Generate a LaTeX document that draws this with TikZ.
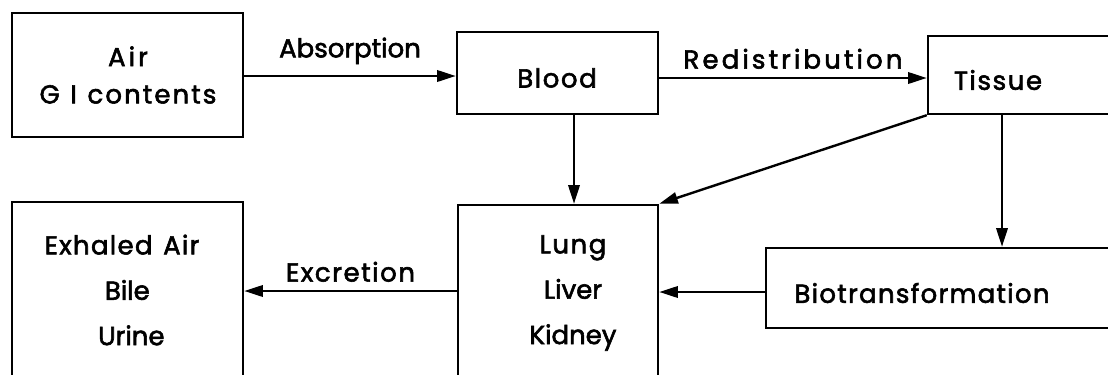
\documentclass[tikz,border=0pt]{standalone}
\usepackage{fontspec}
\setmainfont{Poppins}[FakeBold=2.2]
\usetikzlibrary{arrows.meta,calc}
\begin{document}
\begin{tikzpicture}[x=0.75pt,y=-0.75pt,
  box/.style={draw,line width=1.8pt,inner sep=0pt},
  txt/.style={font=\fontsize{19.5}{22}\selectfont,inner sep=0pt,align=center},
  conn/.style={line width=1.8pt,-{Triangle[length=14pt,width=8.5pt]}}]
\useasboundingbox (0,0) rectangle (1108,375);
\clip (0,0) rectangle (1108,375);
% boxes
\node[box,minimum width=231*0.75pt,minimum height=124*0.75pt] (air) at (127.5,75) {};
\node[box,minimum width=201*0.75pt,minimum height=82*0.75pt] (blood) at (557.5,73) {};
\node[box,minimum width=192*0.75pt,minimum height=78*0.75pt] (tissue) at (1024,75) {};
\node[box,minimum width=354*0.75pt,minimum height=80*0.75pt] (bio) at (943,288) {};
\node[box,minimum width=200*0.75pt,minimum height=190*0.75pt] (lung) at (558,300) {};
\node[box,minimum width=231*0.75pt,minimum height=190*0.75pt] (exh) at (127.5,297) {};
% texts
\node[txt] (airt) at (128,75) {\addfontfeature{LetterSpace=12}Air\\[6pt]\addfontfeature{LetterSpace=8}G\hspace{8pt}I\hspace{8pt}contents};
\node[txt] (bloodt) at (557,78) {\addfontfeature{LetterSpace=6}Blood};
\node[txt] (tissuet) at (998,80) {\addfontfeature{LetterSpace=6}Tissue};
\node[txt] (biot) at (922,293) {\addfontfeature{LetterSpace=5}Biotransformation};
\node[txt] (lungt) at (573,293) {\addfontfeature{LetterSpace=6}Lung\\[12pt]Liver\\[12pt]Kidney};
\node[txt] (exht) at (122,290) {\addfontfeature{LetterSpace=5}Exhaled\hspace{8pt}Air\\[12pt]\hspace{8pt}Bile\\[12pt]\hspace{14pt}Urine};
% connectors
\draw[conn] (air.east |- 0,76) coordinate (a1) -- (a1 -| blood.west)
  node[midway,above=8pt,txt] (abs) {Absorption};
\draw[conn] (blood.east |- 0,78) coordinate (b2) -- (b2 -| tissue.west)
  node[midway,above=6pt,txt] (red) {\addfontfeature{LetterSpace=12}Redistribution};
\coordinate (b1) at (blood.south -| 574,0);
\draw[conn] (b1) -- (b1 |- lung.north);
\draw[conn] (tissue.south west) -- (lung.north east);
\coordinate (t1) at (tissue.south -| 1002,0);
\draw[conn] (t1) -- (t1 |- bio.north);
\draw[conn] (bio.west |- 0,292) coordinate (c1) -- (c1 -| lung.east);
\draw[conn] (lung.west |- 0,291) coordinate (c2) -- (c2 -| exh.east)
  node[midway,above=6pt,txt] (exc) {\addfontfeature{LetterSpace=6}Excretion};
\end{tikzpicture}
\end{document}
